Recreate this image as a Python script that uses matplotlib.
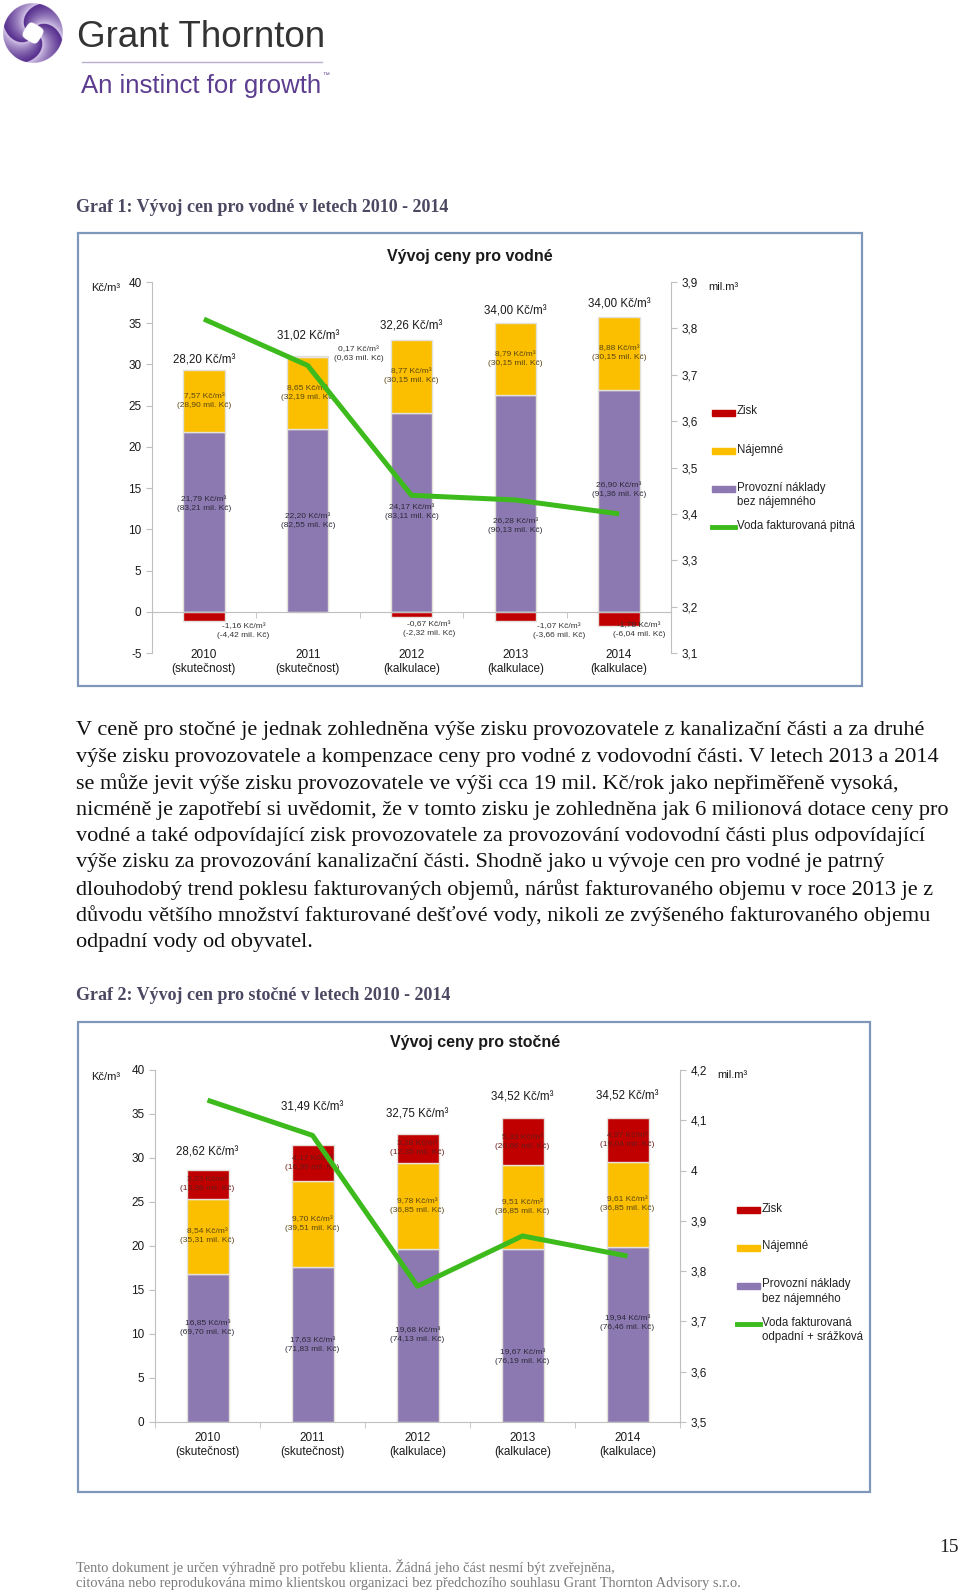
import matplotlib
matplotlib.use('Agg')
import matplotlib.pyplot as plt
import numpy as np
from matplotlib.patches import Rectangle
from matplotlib.lines import Line2D
from matplotlib.ticker import FuncFormatter, FixedLocator

W, H = 960, 1595

years = ['2010\n(skutečnost)', '2011\n(skutečnost)', '2012\n(kalkulace)',
         '2013\n(kalkulace)', '2014\n(kalkulace)']

# Graf 1 - vodne
v_total = [28.20, 31.02, 32.26, 34.00, 34.00]
v_prov = [21.79, 22.20, 24.17, 26.28, 26.90]
v_prov_mil = [83.21, 82.55, 83.11, 90.13, 91.36]
v_naj = [7.57, 8.65, 8.77, 8.79, 8.88]
v_naj_mil = [28.90, 32.19, 30.15, 30.15, 30.15]
v_zisk = [-1.16, 0.17, -0.67, -1.07, -1.78]
v_zisk_mil = [-4.42, 0.63, -2.32, -3.66, -6.04]
v_objem = [3.82, 3.72, 3.44, 3.43, 3.40]

# Graf 2 - stocne
s_total = [28.62, 31.49, 32.75, 34.52, 34.52]
s_prov = [16.85, 17.63, 19.68, 19.67, 19.94]
s_prov_mil = [69.70, 71.83, 74.13, 76.19, 76.46]
s_naj = [8.54, 9.70, 9.78, 9.51, 9.61]
s_naj_mil = [35.31, 39.51, 36.85, 36.85, 36.85]
s_zisk = [3.23, 4.17, 3.28, 5.33, 4.97]
s_zisk_mil = [13.36, 16.99, 12.35, 20.66, 19.04]
s_objem = [4.14, 4.07, 3.77, 3.87, 3.83]

body = [
    "V ceně pro stočné je jednak zohledněna výše zisku provozovatele z kanalizační části a za druhé",
    "výše zisku provozovatele a kompenzace ceny pro vodné z vodovodní části. V letech 2013 a 2014",
    "se může jevit výše zisku provozovatele ve výši cca 19 mil. Kč/rok jako nepřiměřeně vysoká,",
    "nicméně je zapotřebí si uvědomit, že v tomto zisku je zohledněna jak 6 milionová dotace ceny pro",
    "vodné a také odpovídající zisk provozovatele za provozování vodovodní části plus odpovídající",
    "výše zisku za provozování kanalizační části. Shodně jako u vývoje cen pro vodné je patrný",
    "dlouhodobý trend poklesu fakturovaných objemů, nárůst fakturovaného objemu v roce 2013 je z",
    "důvodu většího množství fakturované dešťové vody, nikoli ze zvýšeného fakturovaného objemu",
    "odpadní vody od obyvatel.",
]
footer = [
    "Tento dokument je určen výhradně pro potřebu klienta. Žádná jeho část nesmí být zveřejněna,",
    "citována nebo reprodukována mimo klientskou organizaci bez předchozího souhlasu Grant Thornton Advisory s.r.o.",
]

PURPLE = '#8c79b1'
YELLOW = '#fbbf00'
RED = '#c00000'
GREEN = '#3dbb1c'
GRAY = '#bfbfbf'
SANS = 'Liberation Sans'
SERIF = 'Liberation Serif'

plt.rcParams['font.family'] = [SANS, 'DejaVu Sans']
plt.rcParams['axes.unicode_minus'] = False


def fx(x):
    return x / W


def fy(y):
    return 1 - y / H


def cz(v):
    return f"{v:.2f}".replace('.', ',')


fig = plt.figure(figsize=(W / 100, H / 100), dpi=100)

# --- logo
lax = fig.add_axes([fx(3), fy(63), 60 / W, 60 / H])
g = np.linspace(-1, 1, 240)
X, Y = np.meshgrid(g, g)
R = np.hypot(X, Y)
T = np.arctan2(Y, X)
phase = ((T + 1.8 * R) % (np.pi / 2)) / (np.pi / 2)
c1 = np.array([0.86, 0.81, 0.93])
c2 = np.array([0.33, 0.17, 0.55])
img = c1 + (c2 - c1) * phase[..., None] ** 0.7
a = np.pi / 4 + 0.25
Xr = X * np.cos(a) + Y * np.sin(a)
Yr = -X * np.sin(a) + Y * np.cos(a)
img[(np.abs(Xr) ** 4 + np.abs(Yr) ** 4) < 0.3 ** 4] = 1
rgba = np.dstack([img, (R <= 1).astype(float)])
lax.imshow(rgba, extent=(-1, 1, -1, 1), origin='lower')
lax.axis('off')

fig.text(fx(77), fy(47), "Grant Thornton", fontsize=26.5, color='#333333', va='baseline')
fig.lines.append(Line2D([fx(82), fx(322)], [fy(62), fy(62)], transform=fig.transFigure,
                        color='#b9b0cc', lw=1))
fig.text(fx(81), fy(93), "An instinct for growth", fontsize=18.5, color='#5c3d8f', va='baseline')
fig.text(fx(322), fy(77), "™", fontsize=5, color='#5c3d8f', va='baseline')

# --- headings and text
fig.text(fx(76), fy(207), "Graf 1: Vývoj cen pro vodné v letech 2010 - 2014", family=SERIF,
         fontsize=13, fontweight='bold', color='#4d4862', va='center')
fig.text(fx(76), fy(995), "Graf 2: Vývoj cen pro stočné v letech 2010 - 2014", family=SERIF,
         fontsize=13, fontweight='bold', color='#4d4862', va='center')
for k, line in enumerate(body):
    fig.text(fx(76), fy(731 + k * 26.4), line, family=SERIF, fontsize=16, color='#111111',
             va='center')
for k, line in enumerate(footer):
    fig.text(fx(76), fy(1567 + k * 16), line, family=SERIF, fontsize=10.4, color='#7a7a7a',
             va='center')
fig.text(fx(959), fy(1547), "15", family=SERIF, fontsize=14, color='#222222', ha='right',
         va='center')


def frame(x0, y0, x1, y1):
    fig.patches.append(Rectangle((fx(x0), fy(y1)), (x1 - x0) / W, (y1 - y0) / H,
                                 transform=fig.transFigure, fill=False,
                                 edgecolor='#7f98b9', lw=1.6))


def legend(x0, y0, entries):
    for k, (kind, color, text) in enumerate(entries):
        y = y0 + k * 38
        if kind == 'bar':
            fig.patches.append(Rectangle((fx(x0), fy(y + 3)), 23 / W, 6 / H,
                                         transform=fig.transFigure, color=color))
        else:
            fig.lines.append(Line2D([fx(x0), fx(x0 + 23)], [fy(y), fy(y)],
                                    transform=fig.transFigure, color=color, lw=3.5))
        fig.text(fx(x0 + 25), fy(y - 7.5), text, fontsize=8.3, color='#222222', va='top',
                 linespacing=1.3)


def chart(box, title, title_xy, unit_l, unit_r, prov, prov_mil, naj, naj_mil, zisk, zisk_mil,
          total, objem, ylim, yticks, y2lim, y2ticks, lab_pad, top_gap, prov_y, zisk_xy,
          leg_xy, leg_last):
    x0, y0, x1, y1 = box
    ax = fig.add_axes([fx(x0), fy(y1), (x1 - x0) / W, (y1 - y0) / H])
    prov = np.array(prov)
    naj = np.array(naj)
    zisk = np.array(zisk)
    x = np.arange(len(prov))
    zb = np.where(zisk > 0, prov + naj, 0)
    kw = dict(width=0.4, edgecolor='#e4e0da', linewidth=1.0, zorder=2)
    ax.bar(x, prov, color=PURPLE, **kw)
    ax.bar(x, naj, bottom=prov, color=YELLOW, **kw)
    ax.bar(x, zisk, bottom=zb, color=RED, **kw)
    tops = prov + naj + np.clip(zisk, 0, None)
    for i in x:
        ax.annotate(f"{cz(total[i])} Kč/m³", (i, tops[i]), xytext=(0, top_gap[i]),
                    textcoords='offset pixels', ha='center', va='center', fontsize=8.3,
                    color='#1a1a1a')
        ax.text(i, prov_y[i], f"{cz(prov[i])} Kč/m³\n({cz(prov_mil[i])} mil. Kč)",
                ha='center', va='center', fontsize=6, color='#2d2a3a', linespacing=1.35)
        ax.text(i, prov[i] + naj[i] / 2, f"{cz(naj[i])} Kč/m³\n({cz(naj_mil[i])} mil. Kč)",
                ha='center', va='center', fontsize=6, color='#5a4612', linespacing=1.35)
        if zisk_xy is None:
            ax.text(i, zb[i] + zisk[i] / 2, f"{cz(zisk[i])} Kč/m³\n({cz(zisk_mil[i])} mil. Kč)",
                    ha='center', va='center', fontsize=6, color='#6a1a1a', linespacing=1.35)
        else:
            dx, yy = zisk_xy[i]
            ax.text(i + dx, yy, f"{cz(zisk[i])} Kč/m³\n({cz(zisk_mil[i])} mil. Kč)",
                    ha='center', va='center', fontsize=6, color='#333333', linespacing=1.35)
    ax.set_xlim(-0.5, len(prov) - 0.5)
    ax.set_ylim(*ylim)
    ax.set_yticks(yticks)
    for s in ('top', 'right'):
        ax.spines[s].set_visible(False)
    ax.spines['left'].set_color(GRAY)
    ax.spines['bottom'].set_color(GRAY)
    ax.spines['bottom'].set_position(('data', 0))
    ax.set_xticks(x)
    ax.set_xticklabels(years)
    ax.xaxis.set_minor_locator(FixedLocator(np.arange(-0.5, len(prov), 1.0)))
    ax.tick_params(axis='x', which='major', length=0, pad=lab_pad, labelsize=8.5,
                   labelcolor='#1a1a1a')
    ax.tick_params(axis='x', which='minor', length=4, color=GRAY)
    ax.tick_params(axis='y', length=4, color=GRAY, labelsize=8.5, labelcolor='#1a1a1a')
    ax.patch.set_alpha(0)

    ax2 = ax.twinx()
    ax2.plot(x, objem, color=GREEN, lw=3.6, solid_capstyle='butt', zorder=5)
    ax2.set_ylim(*y2lim)
    ax2.set_yticks(y2ticks)
    ax2.yaxis.set_major_formatter(FuncFormatter(lambda v, p: f"{round(v, 1):g}".replace('.', ',')))
    for s in ('top', 'left', 'bottom'):
        ax2.spines[s].set_visible(False)
    ax2.spines['right'].set_color(GRAY)
    ax2.tick_params(axis='y', length=4, color=GRAY, labelsize=8.5, labelcolor='#1a1a1a')

    fig.text(fx(title_xy[0]), fy(title_xy[1]), title, ha='center', va='center', fontsize=11.5,
             fontweight='bold', color='#1a1a1a')
    fig.text(fx(unit_l[0]), fy(unit_l[1]), "Kč/m³", ha='center', va='center', fontsize=8,
             color='#1a1a1a')
    fig.text(fx(unit_r[0]), fy(unit_r[1]), "mil.m³", ha='center', va='center', fontsize=8,
             color='#1a1a1a')
    legend(leg_xy[0], leg_xy[1], [('bar', RED, 'Zisk'), ('bar', YELLOW, 'Nájemné'),
                                  ('bar', PURPLE, 'Provozní náklady\nbez nájemného'),
                                  ('line', GREEN, leg_last)])


frame(78, 233, 862, 686)
chart((152, 282, 671, 653), "Vývoj ceny pro vodné", (470, 257), (106, 288), (723, 287),
      v_prov, v_prov_mil, v_naj, v_naj_mil, v_zisk, v_zisk_mil, v_total, v_objem,
      (-5, 40), np.arange(-5, 41, 5), (3.1, 3.9), np.arange(3.1, 3.95, 0.1),
      27, [9, 20, 14, 11, 12], [13.1, 11.0, 12.1, 10.4, 14.8],
      [(0.38, -2.3), (0.49, 31.3), (0.17, -2.1), (0.42, -2.3), (0.19, -2.2)],
      (712, 413), 'Voda fakturovaná pitná')

frame(78, 1022, 870, 1492)
chart((155, 1070, 680, 1422), "Vývoj ceny pro stočné", (475, 1042), (106, 1077), (732, 1075),
      s_prov, s_prov_mil, s_naj, s_naj_mil, s_zisk, s_zisk_mil, s_total, s_objem,
      (0, 40), np.arange(0, 41, 5), (3.5, 4.2), np.arange(3.5, 4.25, 0.1),
      7, [18, 37, 19, 21, 22], [10.7, 8.75, 9.9, 7.4, 11.25], None,
      (737, 1210), 'Voda fakturovaná\nodpadní + srážková')

fig.savefig('out.png', dpi=100)
